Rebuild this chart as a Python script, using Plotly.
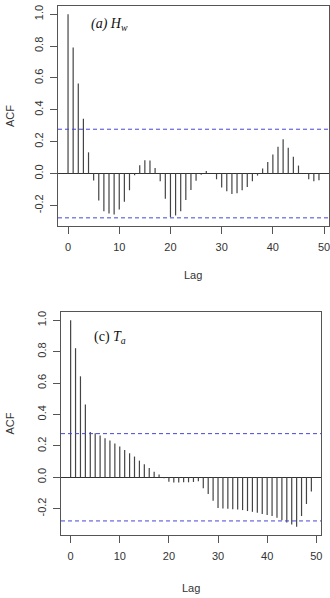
import plotly.graph_objects as go

lags = list(range(50))
hw_acf = [1.0, 0.79, 0.565, 0.343, 0.133, -0.044, -0.169, -0.236, -0.25, -0.257,
          -0.225, -0.177, -0.105, -0.011, 0.052, 0.084, 0.082, 0.035, -0.049, -0.158,
          -0.274, -0.263, -0.237, -0.166, -0.103, -0.045, -0.008, 0.016, 0.0, -0.036,
          -0.087, -0.111, -0.128, -0.124, -0.105, -0.084, -0.049, -0.013, 0.031, 0.073,
          0.12, 0.168, 0.215, 0.162, 0.105, 0.05, 0.0, -0.036, -0.049, -0.042]
ta_acf = [1.0, 0.822, 0.643, 0.464, 0.288, 0.281, 0.266, 0.249, 0.234, 0.215,
          0.196, 0.174, 0.153, 0.132, 0.106, 0.083, 0.059, 0.036, 0.017, -0.006,
          -0.028, -0.034, -0.034, -0.032, -0.032, -0.03, -0.026, -0.07, -0.107, -0.15,
          -0.196, -0.199, -0.201, -0.203, -0.205, -0.209, -0.215, -0.22, -0.226, -0.234,
          -0.241, -0.247, -0.258, -0.273, -0.288, -0.3, -0.315, -0.247, -0.17, -0.09]
ci = 0.278
x_ticks = [0, 10, 20, 30, 40, 50]
y_ticks = [-0.2, 0.0, 0.2, 0.4, 0.6, 0.8, 1.0]
y_ticklabels = ["-0.2", "0.0", "0.2", "0.4", "0.6", "0.8", "1.0"]

W, H = 330, 598
fig = go.Figure()

def segs(xs, ys):
    X, Y = [], []
    for a, b in zip(xs, ys):
        X += [a, a, None]
        Y += [0, b, None]
    return X, Y

panels = [
    dict(vals=hw_acf, xd=[58 / W, 329 / W], yd=[(H - 226) / H, (H - 6) / H], ax="", lab="<i>(a) H<sub>w</sub></i>",
         labpos=(89 / W, (H - 25) / H), lagoff=49),
    dict(vals=ta_acf, xd=[61 / W, 321 / W], yd=[(H - 535) / H, (H - 312) / H], ax="2", lab="(c) <i>T<sub>a</sub></i>",
         labpos=(92 / W, (H - 337) / H), lagoff=53),
]

font_ax = dict(family="Liberation Sans, Arial", size=11, color="#333")
shapes, annotations = [], []
for i, p in enumerate(panels):
    X, Y = segs(lags, p["vals"])
    fig.add_trace(go.Scatter(x=X, y=Y, mode="lines", line=dict(color="#444", width=1.2),
                             xaxis="x" + p["ax"], yaxis="y" + p["ax"], showlegend=False, hoverinfo="skip"))
    lo = min(-ci, min(p["vals"]))
    hi = 1.0
    ext = 0.04 * (hi - lo)
    xr = [0 - 0.04 * 49, 49 + 0.04 * 49]
    common = dict(showgrid=False, showline=True, linecolor="#555", linewidth=1, mirror=True,
                  ticks="outside", ticklen=7, tickcolor="#555", tickfont=font_ax,
                  ticklabeloverflow="allow")
    fig.update_layout(**{
        "xaxis" + p["ax"]: dict(domain=p["xd"], range=xr, tickvals=x_ticks, zeroline=False,
                                anchor="y" + p["ax"], ticklabelstandoff=4, **common),
        "yaxis" + p["ax"]: dict(domain=p["yd"], range=[lo - ext, hi + ext], tickvals=y_ticks,
                                ticktext=y_ticklabels, tickangle=-90, zeroline=True,
                                zerolinecolor="#333", zerolinewidth=1, anchor="x" + p["ax"],
                                ticklabelstandoff=3, **common),
    })
    for v in (ci, -ci):
        shapes.append(dict(type="line", xref="x" + p["ax"] + " domain", yref="y" + p["ax"],
                           x0=0, x1=1, y0=v, y1=v, line=dict(color="#4646d8", width=1, dash="4px,3px")))
    annotations.append(dict(text=p["lab"], x=p["labpos"][0], y=p["labpos"][1], xref="paper", yref="paper",
                            xanchor="left", yanchor="middle", showarrow=False,
                            font=dict(family="Liberation Serif, Times New Roman", size=14, color="#111")))
    ymid = (p["yd"][0] + p["yd"][1]) / 2
    annotations.append(dict(text="ACF", x=10 / W, y=ymid, xref="paper", yref="paper", textangle=-90,
                            xanchor="center", yanchor="middle", showarrow=False, font=font_ax))
    xmid = (p["xd"][0] + p["xd"][1]) / 2
    annotations.append(dict(text="Lag", x=xmid, y=p["yd"][0] - p["lagoff"] / H, xref="paper", yref="paper",
                            xanchor="center", yanchor="middle", showarrow=False, font=font_ax))

fig.update_layout(width=W, height=H, margin=dict(l=0, r=0, t=0, b=0),
                  paper_bgcolor="white", plot_bgcolor="white",
                  shapes=shapes, annotations=annotations)
fig.write_html("out.html")
